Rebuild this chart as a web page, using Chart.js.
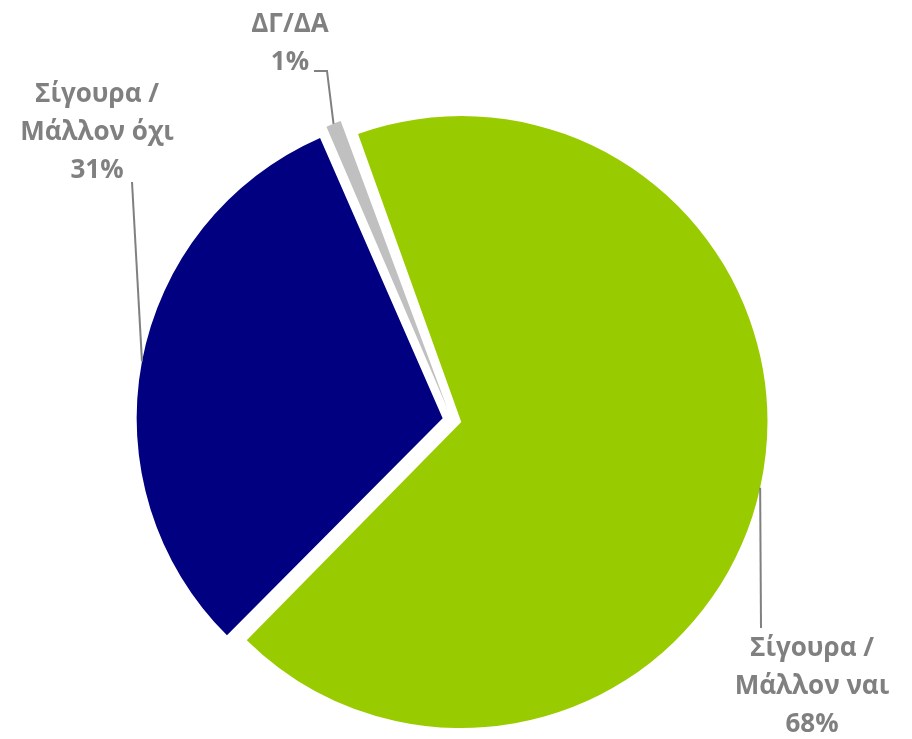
<!DOCTYPE html>
<html>
<head>
<meta charset="utf-8">
<script src="https://cdn.jsdelivr.net/npm/chart.js@4/dist/chart.umd.min.js"></script>
<style>
  html, body { margin: 0; padding: 0; background: #fff; }
  #wrap { width: 912px; height: 739px; position: relative; }
</style>
</head>
<body>
<div id="wrap"><canvas id="pie"></canvas></div>
<script>
// slices, clockwise starting just left of 12 o'clock
const labels = ['Σίγουρα / Μάλλον ναι', 'Σίγουρα / Μάλλον όχι', 'ΔΓ/ΔΑ'];
const values = [68, 31, 1];
const colors = ['#99CC00', '#000080', '#C0C0C0'];
// explode distance in px (Chart.js moves an arc by offset / 4)
const explode = [9.5, 9.5, 13];
const RADIUS = 306;

// label text lines, text centre x, first line y, and where the leader leaves / hits the arc
const callouts = [
  { lines: ['Σίγουρα /', 'Μάλλον ναι', '68%'], x: 812, y: 649, from: [[761, 628]], hit: 12.4 },
  { lines: ['Σίγουρα /', 'Μάλλον όχι', '31%'], x: 97, y: 95, from: [[132, 182]], hit: 190.7 },
  { lines: ['ΔΓ/ΔΑ', '1%'], x: 290, y: 25, from: [[314, 71], [327, 71]], hit: null },
];

// keep every exploded slice at the same radius (Chart.js grows wide arcs by their offset)
const sameRadius = {
  id: 'sameRadius',
  beforeDatasetsDraw(chart) {
    chart.getDatasetMeta(0).data.forEach((arc, i) => {
      const circ = arc.endAngle - arc.startAngle;
      const fix = 1 - Math.sin(Math.min(Math.PI, circ));
      arc.outerRadius = RADIUS - explode[i] * fix;
    });
  }
};

const calloutPlugin = {
  id: 'callouts',
  afterDatasetsDraw(chart) {
    const ctx = chart.ctx;
    const arcs = chart.getDatasetMeta(0).data;
    ctx.save();
    ctx.strokeStyle = '#808080';
    ctx.lineWidth = 2;
    ctx.fillStyle = '#808080';
    ctx.font = 'bold 26px "Open Sans", "Noto Sans", sans-serif';
    ctx.textAlign = 'center';
    ctx.textBaseline = 'middle';
    callouts.forEach((c, i) => {
      const arc = arcs[i];
      const mid = (arc.startAngle + arc.endAngle) / 2;
      const ang = c.hit == null ? mid : c.hit * Math.PI / 180;
      const cx = arc.x + Math.cos(mid) * explode[i];
      const cy = arc.y + Math.sin(mid) * explode[i];
      const ex = cx + Math.cos(ang) * RADIUS;
      const ey = cy + Math.sin(ang) * RADIUS;
      ctx.beginPath();
      ctx.moveTo(c.from[0][0], c.from[0][1]);
      c.from.slice(1).forEach(pt => ctx.lineTo(pt[0], pt[1]));
      ctx.lineTo(ex, ey);
      ctx.stroke();
      c.lines.forEach((t, k) => ctx.fillText(t, c.x, c.y + k * 38));
    });
    ctx.restore();
  }
};

new Chart(document.getElementById('pie'), {
  type: 'pie',
  data: {
    labels,
    datasets: [{
      data: values,
      backgroundColor: colors,
      borderWidth: 0,
      offset: explode.map(e => e * 4),
      hoverOffset: 0,
    }],
  },
  options: {
    responsive: true,
    maintainAspectRatio: false,
    animation: false,
    rotation: -20,
    radius: RADIUS,
    layout: { padding: { top: 101, bottom: 0, left: 0, right: 8 } },
    plugins: { legend: { display: false }, tooltip: { enabled: false } },
  },
  plugins: [sameRadius, calloutPlugin],
});
</script>
</body>
</html>
